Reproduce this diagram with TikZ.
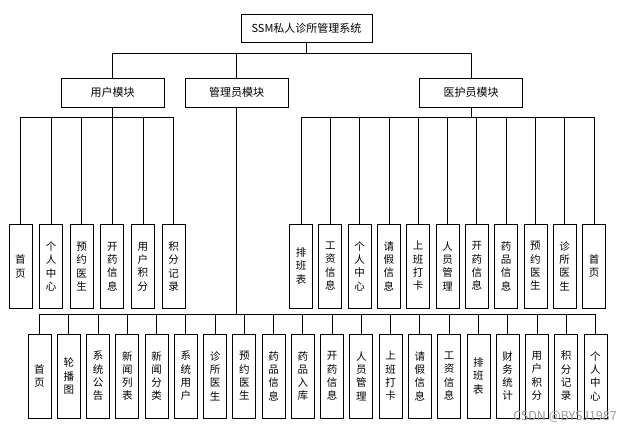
\documentclass[tikz,border=0pt]{standalone}
\usepackage{fontspec}
\setmainfont{Noto Sans CJK SC}
\usetikzlibrary{positioning}

\begin{document}
\begin{tikzpicture}[x=1pt,y=-1pt,line width=0.8pt,
    box node/.style={draw,inner sep=0pt,font=\fontsize{11}{13}\selectfont},
    module node/.style={box node,minimum width=103pt,minimum height=29pt},
    leaf node/.style={box node,minimum width=23pt,minimum height=84pt,align=center,
        font=\fontsize{10.5}{13.3}\selectfont},
    bus/.style={to path={-- ++(0,#1) -| (\tikztotarget)}}]
\useasboundingbox (0,0) rectangle (638,433);

% top levels
\node[box node,minimum width=131pt,minimum height=28pt] (root) at (306.5,28) {SSM私人诊所管理系统};
\node[module node] (user)  at (112.5,92.5) {用户模块};
\node[module node] (admin) at (236.5,92.5) {管理员模块};
\node[module node] (nurse) at (471,92.5)   {医护员模块};

% user leaves
\node[leaf node] (u1) at (20.5,266.5) {首\\页};
\node[leaf node,node distance=30.6pt] (u2) [right of=u1] {个\\人\\中\\心};
\node[leaf node,node distance=30.6pt] (u3) [right of=u2] {预\\约\\医\\生};
\node[leaf node,node distance=30.6pt] (u4) [right of=u3] {开\\药\\信\\息};
\node[leaf node,node distance=30.6pt] (u5) [right of=u4] {用\\户\\积\\分};
\node[leaf node,node distance=30.6pt] (u6) [right of=u5] {积\\分\\记\\录};

% nurse leaves
\node[leaf node] (n1) at (301,266) {排\\班\\表};
\node[leaf node,node distance=29.3pt] (n2)  [right of=n1]  {工\\资\\信\\息};
\node[leaf node,node distance=29.3pt] (n3)  [right of=n2]  {个\\人\\中\\心};
\node[leaf node,node distance=29.3pt] (n4)  [right of=n3]  {请\\假\\信\\息};
\node[leaf node,node distance=29.3pt] (n5)  [right of=n4]  {上\\班\\打\\卡};
\node[leaf node,node distance=29.3pt] (n6)  [right of=n5]  {人\\员\\管\\理};
\node[leaf node,node distance=29.3pt] (n7)  [right of=n6]  {开\\药\\信\\息};
\node[leaf node,node distance=29.3pt] (n8)  [right of=n7]  {药\\品\\信\\息};
\node[leaf node,node distance=29.3pt] (n9)  [right of=n8]  {预\\约\\医\\生};
\node[leaf node,node distance=29.3pt] (n10) [right of=n9]  {诊\\所\\医\\生};
\node[leaf node,node distance=29.3pt] (n11) [right of=n10] {首\\页};

% admin leaves
\node[leaf node] (a1) at (39.5,376) {首\\页};
\node[leaf node,node distance=29.26pt] (a2)  [right of=a1]  {轮\\播\\图};
\node[leaf node,node distance=29.26pt] (a3)  [right of=a2]  {系\\统\\公\\告};
\node[leaf node,node distance=29.26pt] (a4)  [right of=a3]  {新\\闻\\列\\表};
\node[leaf node,node distance=29.26pt] (a5)  [right of=a4]  {新\\闻\\分\\类};
\node[leaf node,node distance=29.26pt] (a6)  [right of=a5]  {系\\统\\用\\户};
\node[leaf node,node distance=29.26pt] (a7)  [right of=a6]  {诊\\所\\医\\生};
\node[leaf node,node distance=29.26pt] (a8)  [right of=a7]  {预\\约\\医\\生};
\node[leaf node,node distance=29.26pt] (a9)  [right of=a8]  {药\\品\\信\\息};
\node[leaf node,node distance=29.26pt] (a10) [right of=a9]  {药\\品\\入\\库};
\node[leaf node,node distance=29.26pt] (a11) [right of=a10] {开\\药\\信\\息};
\node[leaf node,node distance=29.26pt] (a12) [right of=a11] {人\\员\\管\\理};
\node[leaf node,node distance=29.26pt] (a13) [right of=a12] {上\\班\\打\\卡};
\node[leaf node,node distance=29.26pt] (a14) [right of=a13] {请\\假\\信\\息};
\node[leaf node,node distance=29.26pt] (a15) [right of=a14] {工\\资\\信\\息};
\node[leaf node,node distance=29.26pt] (a16) [right of=a15] {排\\班\\表};
\node[leaf node,node distance=29.26pt] (a17) [right of=a16] {财\\务\\统\\计};
\node[leaf node,node distance=29.26pt] (a18) [right of=a17] {用\\户\\积\\分};
\node[leaf node,node distance=29.26pt] (a19) [right of=a18] {积\\分\\记\\录};
\node[leaf node,node distance=29.26pt] (a20) [right of=a19] {个\\人\\中\\心};

\node[text=black!40,font=\fontsize{12.5}{14}\selectfont] (mark) at (565,417) {CSDN @BYSJ1987};

% connectors
\path (root.south) edge[bus=11] (user.north) edge[bus=11] (admin.north) edge[bus=11] (nurse.north);
\path (user.south) edge[bus=10] (u1.north) edge[bus=10] (u2.north) edge[bus=10] (u3.north)
    edge[bus=10] (u4.north) edge[bus=10] (u5.north) edge[bus=10] (u6.north);
\path (nurse.south) edge[bus=10] (n1.north) edge[bus=10] (n2.north) edge[bus=10] (n3.north)
    edge[bus=10] (n4.north) edge[bus=10] (n5.north) edge[bus=10] (n6.north)
    edge[bus=10] (n7.north) edge[bus=10] (n8.north) edge[bus=10] (n9.north)
    edge[bus=10] (n10.north) edge[bus=10] (n11.north);
\path (admin.south) edge[bus=207] (a1.north) edge[bus=207] (a2.north) edge[bus=207] (a3.north)
    edge[bus=207] (a4.north) edge[bus=207] (a5.north) edge[bus=207] (a6.north)
    edge[bus=207] (a7.north) edge[bus=207] (a8.north) edge[bus=207] (a9.north)
    edge[bus=207] (a10.north) edge[bus=207] (a11.north) edge[bus=207] (a12.north)
    edge[bus=207] (a13.north) edge[bus=207] (a14.north) edge[bus=207] (a15.north)
    edge[bus=207] (a16.north) edge[bus=207] (a17.north) edge[bus=207] (a18.north)
    edge[bus=207] (a19.north) edge[bus=207] (a20.north);
\end{tikzpicture}
\end{document}
